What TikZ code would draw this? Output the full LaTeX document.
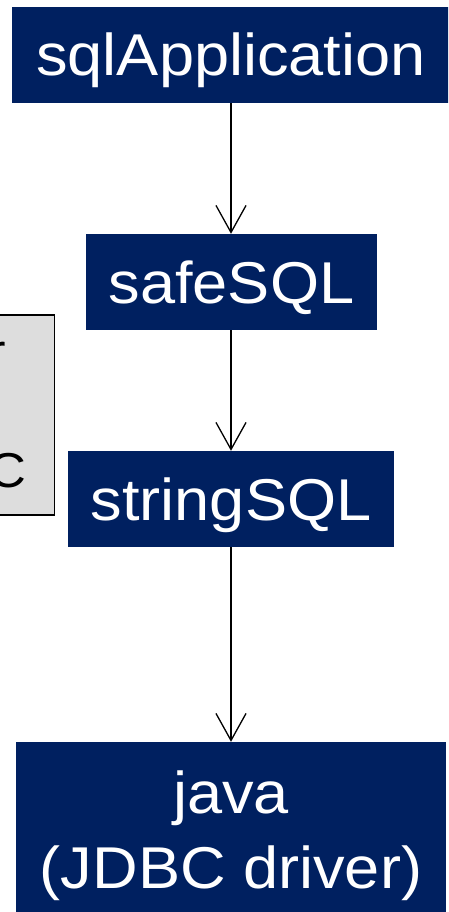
\documentclass[tikz,border=0pt]{standalone}
\usepackage{fontspec}
\setmainfont[FakeStretch=1.07]{Liberation Sans}
\usetikzlibrary{arrows.meta}
\definecolor{navy}{HTML}{002060}
\definecolor{panel}{HTML}{DDDDDD}
\tikzset{
  layer/.style={fill=navy, draw=none, text=white, inner sep=0pt,
    minimum height=96pt, text height=42pt, text depth=0pt,
    font=\fontsize{59}{75}\selectfont},
  flow/.style={draw=black, line width=1.3pt,
    -{Straight Barb[length=27pt,width=30pt]}},
}
\begin{document}
\begin{tikzpicture}[x=1pt,y=-1pt]
  \useasboundingbox (0,0) rectangle (448,912);
  \clip (0,0) rectangle (448,912);

  % side panel, mostly outside the page
  \node[fill=panel, draw=black, line width=1.5pt, inner sep=0pt,
        minimum width=120pt, minimum height=200pt, anchor=north east]
        (panel) at (55,314) {};
  \node[font=\fontsize{49}{60}\selectfont, inner sep=0pt, anchor=base east]
        (panelTop) at (6,368) {r};
  \node[font=\fontsize{49}{60}\selectfont, inner sep=0pt, anchor=base east]
        (panelBot) at (27,487) {C};

  % layer stack
  \node[layer, minimum width=438pt] (app) at (231,55) {sqlApplication};
  \node[layer, minimum width=291pt] (safe) at (231.5,282) {safeSQL};
  \node[layer, minimum width=326pt] (str) at (231,499) {stringSQL};
  \node[layer, minimum width=430pt, minimum height=186pt, align=center,
        text height=106pt] (java) at (231,835) {java\\(JDBC driver)};

  \draw[flow] (app.south -| 231,0) -- (safe.north -| 231,0);
  \draw[flow] (safe.south -| 231,0) -- (str.north -| 231,0);
  \draw[flow] (str.south -| 231,0) -- (java.north -| 231,0);
\end{tikzpicture}
\end{document}
